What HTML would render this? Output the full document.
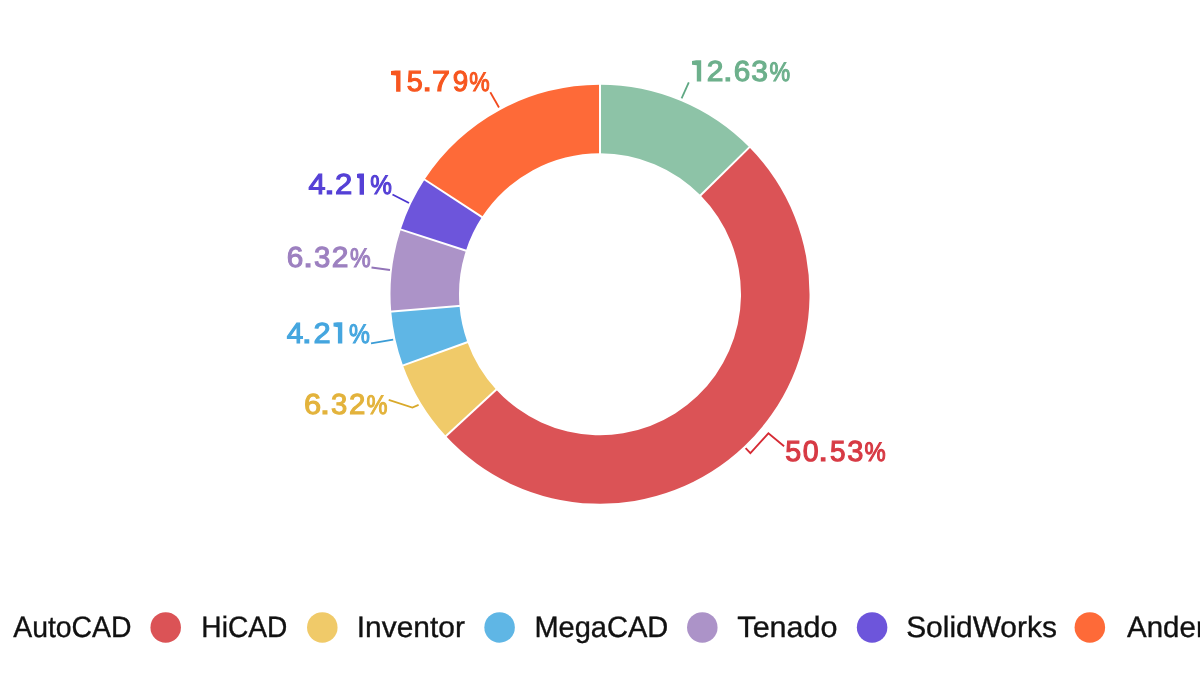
<!DOCTYPE html>
<html><head><meta charset="utf-8"><title>Chart</title>
<style>html,body{margin:0;padding:0;background:#fff;width:1200px;height:676px;overflow:hidden}</style>
</head><body>
<svg width="1200" height="676" viewBox="0 0 1200 676" text-rendering="geometricPrecision" style="display:block;will-change:transform;font-family:'Liberation Sans',sans-serif">
<path d="M600.00,84.70 A209.5,209.5 0 0 1 749.36,147.29 L700.52,195.33 A141.0,141.0 0 0 0 600.00,153.20 Z" fill="#8DC3A7"/>
<path d="M749.36,147.29 A209.5,209.5 0 1 1 445.87,436.09 L496.26,389.70 A141.0,141.0 0 1 0 700.52,195.33 Z" fill="#DB5356"/>
<path d="M445.87,436.09 A209.5,209.5 0 0 1 403.00,365.49 L467.41,342.18 A141.0,141.0 0 0 0 496.26,389.70 Z" fill="#F0CA69"/>
<path d="M403.00,365.49 A209.5,209.5 0 0 1 391.22,311.50 L459.48,305.84 A141.0,141.0 0 0 0 467.41,342.18 Z" fill="#5FB6E5"/>
<path d="M391.22,311.50 A209.5,209.5 0 0 1 400.75,229.46 L465.90,250.63 A141.0,141.0 0 0 0 459.48,305.84 Z" fill="#AC93C8"/>
<path d="M400.75,229.46 A209.5,209.5 0 0 1 424.61,179.61 L481.96,217.08 A141.0,141.0 0 0 0 465.90,250.63 Z" fill="#6D55DB"/>
<path d="M424.61,179.61 A209.5,209.5 0 0 1 600.00,84.70 L600.00,153.20 A141.0,141.0 0 0 0 481.96,217.08 Z" fill="#FE6A38"/>
<line x1="600.00" y1="155.20" x2="600.00" y2="82.70" stroke="#fff" stroke-width="2"/>
<line x1="699.10" y1="196.73" x2="750.78" y2="145.89" stroke="#fff" stroke-width="2"/>
<line x1="497.73" y1="388.34" x2="444.39" y2="437.45" stroke="#fff" stroke-width="2"/>
<line x1="469.30" y1="341.50" x2="401.12" y2="366.17" stroke="#fff" stroke-width="2"/>
<line x1="461.47" y1="305.68" x2="389.22" y2="311.67" stroke="#fff" stroke-width="2"/>
<line x1="467.80" y1="251.25" x2="398.85" y2="228.84" stroke="#fff" stroke-width="2"/>
<line x1="483.63" y1="218.17" x2="422.94" y2="178.52" stroke="#fff" stroke-width="2"/>
<polyline points="681.6,98.4 688.8,82.4" fill="none" stroke="#5FA883" stroke-width="1.8"/>
<path d="M701.20,60.30 L701.20,81.60 L696.80,81.60 L696.80,65.30 L692.00,64.70 L692.00,60.90 L696.20,60.30 Z" fill="#6DB08C"/>
<text x="706.77" y="81" fill="#6DB08C" stroke="#6DB08C" stroke-width="1.1" font-size="28.90" textLength="16.72" lengthAdjust="spacingAndGlyphs">2</text>
<text x="723.06" y="81" fill="#6DB08C" stroke="#6DB08C" stroke-width="1.1" font-size="28.90" textLength="9.66" lengthAdjust="spacingAndGlyphs">.</text>
<text x="733.71" y="81" fill="#6DB08C" stroke="#6DB08C" stroke-width="1.1" font-size="28.90" textLength="16.54" lengthAdjust="spacingAndGlyphs">6</text>
<text x="751.26" y="81" fill="#6DB08C" stroke="#6DB08C" stroke-width="1.1" font-size="28.90" textLength="16.70" lengthAdjust="spacingAndGlyphs">3</text>
<text x="769.60" y="81" fill="#6DB08C" stroke="#6DB08C" stroke-width="1.1" font-size="26.88" textLength="20.66" lengthAdjust="spacingAndGlyphs">%</text>
<polyline points="745.6,448.1 750.4,453.1 768.4,433.3 784.1,446.3" fill="none" stroke="#D62B35" stroke-width="1.8"/>
<text x="785.33" y="461" fill="#D73A44" stroke="#D73A44" stroke-width="1.1" font-size="28.90" textLength="15.94" lengthAdjust="spacingAndGlyphs">5</text>
<text x="802.82" y="461" fill="#D73A44" stroke="#D73A44" stroke-width="1.1" font-size="28.90" textLength="15.90" lengthAdjust="spacingAndGlyphs">0</text>
<text x="818.24" y="461" fill="#D73A44" stroke="#D73A44" stroke-width="1.1" font-size="28.90" textLength="9.81" lengthAdjust="spacingAndGlyphs">.</text>
<text x="829.96" y="461" fill="#D73A44" stroke="#D73A44" stroke-width="1.1" font-size="28.90" textLength="15.55" lengthAdjust="spacingAndGlyphs">5</text>
<text x="847.31" y="461" fill="#D73A44" stroke="#D73A44" stroke-width="1.1" font-size="28.90" textLength="16.14" lengthAdjust="spacingAndGlyphs">3</text>
<text x="864.58" y="461" fill="#D73A44" stroke="#D73A44" stroke-width="1.1" font-size="26.88" textLength="21.19" lengthAdjust="spacingAndGlyphs">%</text>
<polyline points="418.6,404.9 412.4,407.5 388.7,399.8" fill="none" stroke="#D9A92A" stroke-width="1.8"/>
<text x="304.04" y="414" fill="#E3B33C" stroke="#E3B33C" stroke-width="1.1" font-size="28.90" textLength="17.13" lengthAdjust="spacingAndGlyphs">6</text>
<text x="319.74" y="414" fill="#E3B33C" stroke="#E3B33C" stroke-width="1.1" font-size="28.90" textLength="10.42" lengthAdjust="spacingAndGlyphs">.</text>
<text x="331.12" y="414" fill="#E3B33C" stroke="#E3B33C" stroke-width="1.1" font-size="28.90" textLength="16.30" lengthAdjust="spacingAndGlyphs">3</text>
<text x="348.95" y="414" fill="#E3B33C" stroke="#E3B33C" stroke-width="1.1" font-size="28.90" textLength="16.41" lengthAdjust="spacingAndGlyphs">2</text>
<text x="366.59" y="414" fill="#E3B33C" stroke="#E3B33C" stroke-width="1.1" font-size="26.88" textLength="20.99" lengthAdjust="spacingAndGlyphs">%</text>
<polyline points="393.2,339.6 371.0,343.4" fill="none" stroke="#3A9CD6" stroke-width="1.8"/>
<text x="286.88" y="343" fill="#45A6DF" stroke="#45A6DF" stroke-width="1.1" font-size="28.90" textLength="16.59" lengthAdjust="spacingAndGlyphs">4</text>
<text x="301.89" y="343" fill="#45A6DF" stroke="#45A6DF" stroke-width="1.1" font-size="28.90" textLength="10.13" lengthAdjust="spacingAndGlyphs">.</text>
<text x="313.59" y="343" fill="#45A6DF" stroke="#45A6DF" stroke-width="1.1" font-size="28.90" textLength="17.18" lengthAdjust="spacingAndGlyphs">2</text>
<path d="M342.30,322.20 L342.30,343.50 L337.90,343.50 L337.90,327.20 L333.50,326.60 L333.50,322.80 L337.30,322.20 Z" fill="#45A6DF"/>
<text x="349.02" y="343" fill="#45A6DF" stroke="#45A6DF" stroke-width="1.1" font-size="26.88" textLength="20.88" lengthAdjust="spacingAndGlyphs">%</text>
<polyline points="390.0,270.0 371.5,267.5" fill="none" stroke="#9274B8" stroke-width="1.8"/>
<text x="286.73" y="267" fill="#9D80C0" stroke="#9D80C0" stroke-width="1.1" font-size="28.90" textLength="16.55" lengthAdjust="spacingAndGlyphs">6</text>
<text x="303.08" y="267" fill="#9D80C0" stroke="#9D80C0" stroke-width="1.1" font-size="28.90" textLength="10.17" lengthAdjust="spacingAndGlyphs">.</text>
<text x="314.06" y="267" fill="#9D80C0" stroke="#9D80C0" stroke-width="1.1" font-size="28.90" textLength="16.31" lengthAdjust="spacingAndGlyphs">3</text>
<text x="331.85" y="267" fill="#9D80C0" stroke="#9D80C0" stroke-width="1.1" font-size="28.90" textLength="16.71" lengthAdjust="spacingAndGlyphs">2</text>
<text x="350.01" y="267" fill="#9D80C0" stroke="#9D80C0" stroke-width="1.1" font-size="26.88" textLength="20.67" lengthAdjust="spacingAndGlyphs">%</text>
<polyline points="409.0,203.0 392.5,194.5" fill="none" stroke="#4B35D0" stroke-width="1.8"/>
<text x="308.53" y="194" fill="#5540D6" stroke="#5540D6" stroke-width="1.1" font-size="28.90" textLength="17.07" lengthAdjust="spacingAndGlyphs">4</text>
<text x="323.69" y="194" fill="#5540D6" stroke="#5540D6" stroke-width="1.1" font-size="28.90" textLength="11.41" lengthAdjust="spacingAndGlyphs">.</text>
<text x="334.98" y="194" fill="#5540D6" stroke="#5540D6" stroke-width="1.1" font-size="28.90" textLength="17.32" lengthAdjust="spacingAndGlyphs">2</text>
<path d="M364.00,173.40 L364.00,194.70 L359.60,194.70 L359.60,178.40 L357.00,177.80 L357.00,174.00 L359.00,173.40 Z" fill="#5540D6"/>
<text x="370.25" y="194" fill="#5540D6" stroke="#5540D6" stroke-width="1.1" font-size="26.88" textLength="21.64" lengthAdjust="spacingAndGlyphs">%</text>
<polyline points="499.0,107.5 490.3,92.3" fill="none" stroke="#F24A1E" stroke-width="1.8"/>
<path d="M400.50,70.50 L400.50,91.80 L396.10,91.80 L396.10,75.50 L391.00,74.90 L391.00,71.10 L395.50,70.50 Z" fill="#F7561F"/>
<text x="406.87" y="91" fill="#F7561F" stroke="#F7561F" stroke-width="1.1" font-size="28.90" textLength="16.07" lengthAdjust="spacingAndGlyphs">5</text>
<text x="422.29" y="91" fill="#F7561F" stroke="#F7561F" stroke-width="1.1" font-size="28.90" textLength="9.81" lengthAdjust="spacingAndGlyphs">.</text>
<text x="432.07" y="91" fill="#F7561F" stroke="#F7561F" stroke-width="1.1" font-size="28.90" textLength="18.05" lengthAdjust="spacingAndGlyphs">7</text>
<text x="452.69" y="91" fill="#F7561F" stroke="#F7561F" stroke-width="1.1" font-size="28.90" textLength="15.50" lengthAdjust="spacingAndGlyphs">9</text>
<text x="469.18" y="91" fill="#F7561F" stroke="#F7561F" stroke-width="1.1" font-size="26.88" textLength="20.42" lengthAdjust="spacingAndGlyphs">%</text>
<text x="13.22" y="637.2" fill="#111" font-size="29.5" stroke="#111" stroke-width="0.35" textLength="118.29" lengthAdjust="spacingAndGlyphs">AutoCAD</text>
<circle cx="165.70" cy="627.4" r="15.25" fill="#DB5356"/>
<text x="201.30" y="637.2" fill="#111" font-size="29.5" stroke="#111" stroke-width="0.35" textLength="86.06" lengthAdjust="spacingAndGlyphs">HiCAD</text>
<circle cx="322.30" cy="627.4" r="15.25" fill="#F0CA69"/>
<text x="356.82" y="637.2" fill="#111" font-size="29.5" stroke="#111" stroke-width="0.35" textLength="108.09" lengthAdjust="spacingAndGlyphs">Inventor</text>
<circle cx="499.60" cy="627.4" r="15.25" fill="#5FB6E5"/>
<text x="534.38" y="637.2" fill="#111" font-size="29.5" stroke="#111" stroke-width="0.35" textLength="133.92" lengthAdjust="spacingAndGlyphs">MegaCAD</text>
<circle cx="702.30" cy="627.4" r="15.25" fill="#AC93C8"/>
<text x="737.37" y="637.2" fill="#111" font-size="29.5" stroke="#111" stroke-width="0.35" textLength="100.23" lengthAdjust="spacingAndGlyphs">Tenado</text>
<circle cx="872.10" cy="627.4" r="15.25" fill="#6D55DB"/>
<text x="906.17" y="637.2" fill="#111" font-size="29.5" stroke="#111" stroke-width="0.35" textLength="150.68" lengthAdjust="spacingAndGlyphs">SolidWorks</text>
<circle cx="1089.85" cy="627.4" r="15.25" fill="#FE6A38"/>
<text x="1127.10" y="637.2" fill="#111" font-size="29.5" stroke="#111" stroke-width="0.35" textLength="95.00" lengthAdjust="spacingAndGlyphs">Andere</text>
</svg>
</body></html>
